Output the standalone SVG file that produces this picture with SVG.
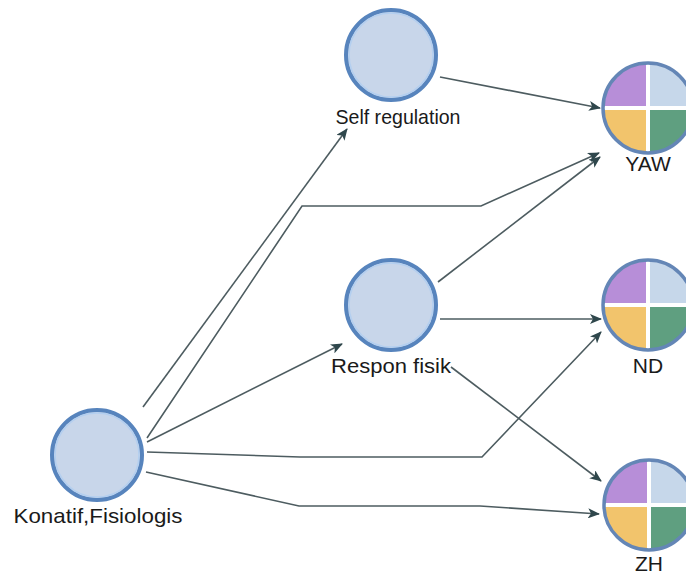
<svg xmlns="http://www.w3.org/2000/svg" xmlns:xlink="http://www.w3.org/1999/xlink" width="686" height="576" viewBox="0 0 686 576">
  <style>
    .bg { fill: #ffffff; }
    .lat { fill: #c8d6ea; stroke: #5784bd; stroke-width: 4; }
    .lat-in { fill: none; stroke: #b3cff0; stroke-width: 1.5; }
    .ring { fill: none; stroke: #6486b6; stroke-width: 3.5; }
    .cross { stroke: #ffffff; stroke-width: 4; }
    .lbl { font-family: "Liberation Sans", Arial, sans-serif; font-size: 21px; fill: #1a1a1a; text-anchor: middle; }
    .edge { fill: none; stroke: #4d5c60; stroke-width: 1.6; marker-end: url(#arr); }
  </style>
  <defs>
    <marker id="arr" viewBox="0 0 12 10" refX="11" refY="5" markerWidth="12" markerHeight="10" markerUnits="userSpaceOnUse" orient="auto">
      <path d="M0,0 L12,5 L0,10 L3,5 Z" fill="#2f474c"/>
    </marker>
    <!-- four-quadrant indicator disc, centred on the origin -->
    <g id="quad">
      <path d="M0,0 L-44,0 A44,44 0 0 1 0,-44 Z" fill="#b78ed8"/>
      <path d="M0,0 L0,-44 A44,44 0 0 1 44,0 Z" fill="#c6d7ea"/>
      <path d="M0,0 L44,0 A44,44 0 0 1 0,44 Z" fill="#5f9f80"/>
      <path d="M0,0 L0,44 A44,44 0 0 1 -44,0 Z" fill="#f2c46c"/>
      <line class="cross" x1="-44" y1="0" x2="44" y2="0"/>
      <line class="cross" x1="0" y1="-44" x2="0" y2="44"/>
      <circle class="ring" r="45"/>
    </g>
  </defs>

  <rect class="bg" x="0" y="0" width="686" height="576"/>

  <g id="connectors">
    <path class="edge" d="M440,77 L600,108"/>
    <path class="edge" d="M143,407 L347,129"/>
    <path class="edge" d="M147,438 L302,206 L481,206 L599,153"/>
    <path class="edge" d="M147,442 L342,344"/>
    <path class="edge" d="M147,452 L300,457 L482,457 L601,332"/>
    <path class="edge" d="M146,472 L299,506 L480,506 L599,514"/>
    <path class="edge" d="M438,282 L600,157"/>
    <path class="edge" d="M440,319 L601,319"/>
    <path class="edge" d="M451,367 L601,481"/>
  </g>

  <g id="self-regulation">
    <circle class="lat" cx="391" cy="55" r="45"/>
    <circle class="lat-in" cx="391" cy="55" r="42"/>
    <text class="lbl" x="398" y="124" textLength="125" lengthAdjust="spacingAndGlyphs">Self regulation</text>
  </g>

  <g id="respon-fisik">
    <circle class="lat" cx="391" cy="305" r="45"/>
    <circle class="lat-in" cx="391" cy="305" r="42"/>
    <text class="lbl" x="391" y="373" textLength="120" lengthAdjust="spacingAndGlyphs">Respon fisik</text>
  </g>

  <g id="konatif-fisiologis">
    <circle class="lat" cx="97" cy="455" r="45"/>
    <circle class="lat-in" cx="97" cy="455" r="42"/>
    <text class="lbl" x="98" y="523" textLength="169" lengthAdjust="spacingAndGlyphs">Konatif,Fisiologis</text>
  </g>

  <g id="yaw">
    <use xlink:href="#quad" x="648" y="108"/>
    <text class="lbl" x="648" y="171">YAW</text>
  </g>

  <g id="nd">
    <use xlink:href="#quad" x="648" y="305"/>
    <text class="lbl" x="648" y="373">ND</text>
  </g>

  <g id="zh">
    <use xlink:href="#quad" x="649" y="505"/>
    <text class="lbl" x="649" y="571">ZH</text>
  </g>
</svg>
